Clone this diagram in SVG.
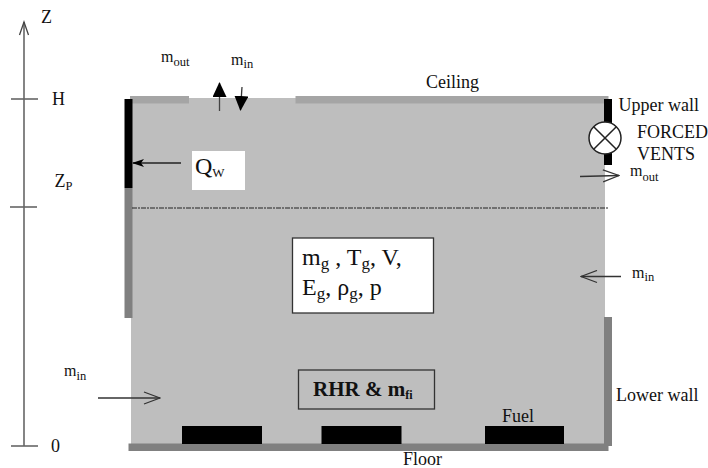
<svg xmlns="http://www.w3.org/2000/svg" width="708" height="468" viewBox="0 0 708 468">
<defs>
<marker id="open" markerWidth="18" markerHeight="14" refX="17" refY="7" orient="auto" markerUnits="userSpaceOnUse"><path d="M1 1 L17 7 L1 13" fill="none" stroke="#333" stroke-width="1.300"/></marker>
<marker id="solidBig" markerWidth="15" markerHeight="14" refX="14" refY="7" orient="auto" markerUnits="userSpaceOnUse"><path d="M0 0 L15 7 L0 14 Z" fill="#000"/></marker>
<marker id="solidSmall" markerWidth="12" markerHeight="8" refX="11" refY="4" orient="auto" markerUnits="userSpaceOnUse"><path d="M0 0 L12 4 L0 8 L3 4 Z" fill="#000"/></marker>
</defs>
<style>
text{font-family:"Liberation Serif","Times New Roman",serif;fill:#111}
.s{font-size:16px}.m{font-size:18px}.l{font-size:24px}
.sub{font-size:12.500px}
.lsub{font-size:17px}
.line{fill:none;stroke:#333;stroke-width:1.300}
.axis{fill:none;stroke:#666;stroke-width:1.600}
</style>
<rect width="708" height="468" fill="#fff"/>
<g id="room"><rect x="131" y="98" width="474" height="346" fill="#bebebe"/></g>
<g id="ceiling"><rect x="130" y="96" width="59" height="7.500" fill="#a5a5a5"/><rect x="295.500" y="96" width="313" height="7.500" fill="#a5a5a5"/></g>
<g id="floor"><rect x="128.500" y="443.500" width="480" height="7.500" fill="#808080"/></g>
<g id="upper-wall-left"><rect x="124.500" y="99" width="8" height="89" fill="#000"/><rect x="124.500" y="188" width="8" height="130" fill="#808080"/></g>
<g id="upper-wall-right"><rect x="604" y="99" width="8" height="66" fill="#000"/></g>
<g id="lower-wall-right"><rect x="604" y="317" width="8" height="129" fill="#808080"/></g>
<g id="fuel-1"><rect x="182" y="426" width="80" height="18" fill="#000"/></g>
<g id="fuel-2"><rect x="321.500" y="426" width="80" height="18" fill="#000"/></g>
<g id="fuel-3"><rect x="485" y="426" width="79" height="18" fill="#000"/></g>
<g id="forced-vent"><circle cx="605" cy="138" r="16" fill="#fff" stroke="#222" stroke-width="1.500"/><path d="M593.700 126.700 L616.300 149.300 M616.300 126.700 L593.700 149.300" stroke="#222" stroke-width="1.500"/></g>
<g id="layer-interface"><line x1="132" y1="208" x2="608" y2="208" stroke="#222" stroke-width="1.200" stroke-dasharray="5 1 2 1"/></g>
<g id="connectors">
<line class="axis" x1="24" y1="446" x2="24" y2="22"/>
<path d="M19.500 35 L24 22 L28.500 35" fill="none" stroke="#444" stroke-width="1.300"/>
<line class="axis" x1="11" y1="99" x2="38" y2="99"/>
<line class="axis" x1="10" y1="207" x2="37" y2="207"/>
<line class="axis" x1="11" y1="446" x2="38" y2="446"/>
<line x1="219.500" y1="111" x2="219.500" y2="83" stroke="#444" stroke-width="1.300" marker-end="url(#solidBig)"/>
<line x1="242" y1="87" x2="240.500" y2="110" stroke="#333" stroke-width="1.300" marker-end="url(#solidBig)"/>
<line x1="181" y1="163" x2="133" y2="163" stroke="#222" stroke-width="1.300" marker-end="url(#solidSmall)"/>
<line class="line" x1="580" y1="176.500" x2="619" y2="175.500" marker-end="url(#open)"/>
<line class="line" x1="621" y1="276.500" x2="581" y2="276.500" marker-end="url(#open)"/>
<line class="line" x1="98" y1="398" x2="160" y2="398" marker-end="url(#open)"/>
</g>
<g id="axis-labels">
<text class="m" x="41" y="23">Z</text>
<text class="m" x="52" y="105">H</text>
<text class="m" x="54.500" y="187">Z<tspan class="sub" dy="3">P</tspan></text>
<text class="m" x="51" y="452">0</text>
</g>
<g id="vent-top-labels">
<text class="s" x="161" y="62">m<tspan class="sub" dy="4">out</tspan></text>
<text class="s" x="231" y="65">m<tspan class="sub" dy="3">in</tspan></text>
</g>
<g id="q-wall"><rect x="192" y="151" width="53" height="39" fill="#fff"/><text x="195" y="174" font-size="24">Q<tspan font-size="13" dy="3">W</tspan></text></g>
<g id="gas-state"><rect x="292.500" y="238" width="141" height="75" fill="#fff" stroke="#333" stroke-width="1.300"/>
<text class="l" x="302" y="265">m<tspan class="lsub" dy="4">g</tspan><tspan dy="-4"> , T</tspan><tspan class="lsub" dy="4">g</tspan><tspan dy="-4">, V,</tspan></text>
<text class="l" x="302" y="295">E<tspan class="lsub" dy="4">g</tspan><tspan dy="-4">, ρ</tspan><tspan class="lsub" dy="4">g</tspan><tspan dy="-4">, p</tspan></text></g>
<g id="rhr"><rect x="298.500" y="370" width="136" height="39" fill="none" stroke="#333" stroke-width="1.300"/>
<text x="313" y="396" font-size="21" font-weight="bold">RHR &amp; m<tspan font-size="12" dy="3">fi</tspan></text></g>
<g id="labels">
<text class="m" x="426" y="88">Ceiling</text>
<text class="m" x="618.500" y="111">Upper wall</text>
<text class="m" x="637" y="138">FORCED</text>
<text class="m" x="637" y="160">VENTS</text>
<text class="s" x="630" y="176">m<tspan class="sub" dy="5">out</tspan></text>
<text class="s" x="632" y="278">m<tspan class="sub" dy="3">in</tspan></text>
<text class="s" x="64" y="376">m<tspan class="sub" dy="4">in</tspan></text>
<text class="m" x="616" y="401">Lower wall</text>
<text class="m" x="502" y="422">Fuel</text>
<text class="m" x="403" y="465">Floor</text>
</g>
</svg>
